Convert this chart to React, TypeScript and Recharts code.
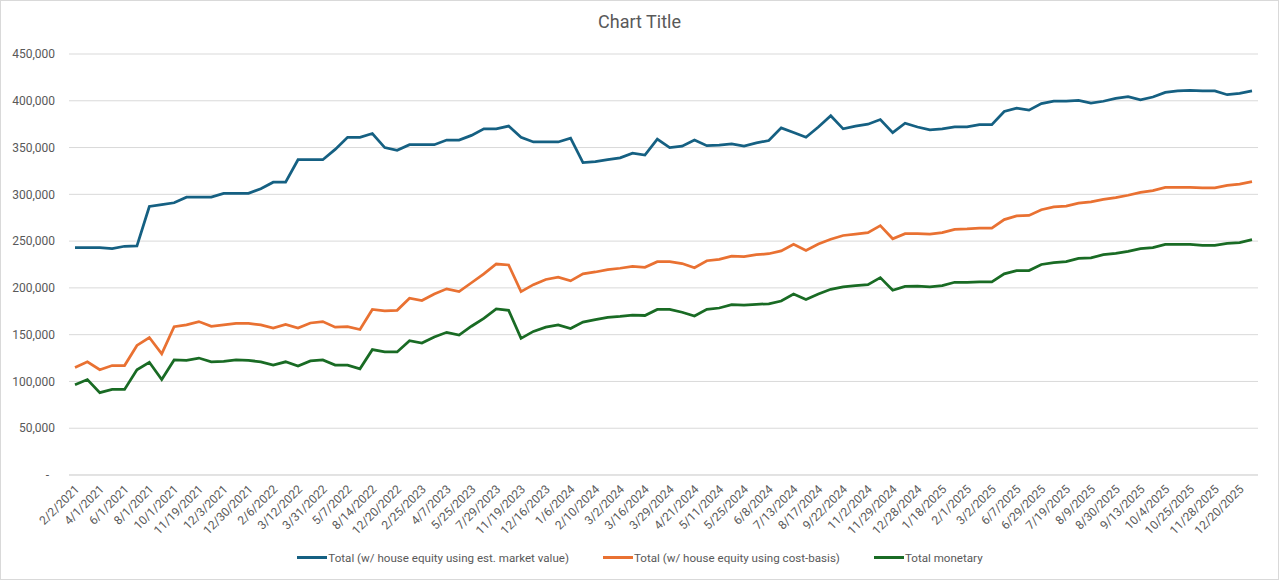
import { LineChart, Line, XAxis, YAxis, CartesianGrid, Legend } from "recharts"

// snapshot dates (every other one is labelled on the axis)
const dates = [
  "2/2/2021", "3/1/2021", "4/1/2021", "5/1/2021", "6/1/2021", "7/1/2021", "8/1/2021", "9/1/2021",
  "10/1/2021", "11/1/2021", "11/19/2021", "11/26/2021", "12/3/2021", "12/17/2021", "12/30/2021", "1/15/2022",
  "2/6/2022", "2/26/2022", "3/12/2022", "3/19/2022", "3/31/2022", "4/15/2022", "5/7/2022", "6/20/2022",
  "8/14/2022", "10/10/2022", "12/20/2022", "1/21/2023", "2/25/2023", "3/18/2023", "4/7/2023", "5/2/2023",
  "5/25/2023", "6/24/2023", "7/29/2023", "9/30/2023", "11/19/2023", "12/2/2023", "12/16/2023", "12/30/2023",
  "1/6/2024", "1/20/2024", "2/10/2024", "2/24/2024", "3/2/2024", "3/9/2024", "3/16/2024", "3/23/2024",
  "3/29/2024", "4/6/2024", "4/21/2024", "5/4/2024", "5/11/2024", "5/18/2024", "5/25/2024", "6/1/2024",
  "6/8/2024", "6/22/2024", "7/13/2024", "7/27/2024", "8/17/2024", "9/1/2024", "9/22/2024", "10/12/2024",
  "11/2/2024", "11/16/2024", "11/29/2024", "12/14/2024", "12/28/2024", "1/4/2025", "1/18/2025", "1/25/2025",
  "2/1/2025", "2/15/2025", "3/2/2025", "4/19/2025", "6/7/2025", "6/14/2025", "6/29/2025", "7/5/2025",
  "7/19/2025", "7/26/2025", "8/9/2025", "8/16/2025", "8/30/2025", "9/6/2025", "9/13/2025", "9/20/2025",
  "10/4/2025", "10/11/2025", "10/25/2025", "11/8/2025", "11/28/2025", "12/6/2025", "12/20/2025", "1/3/2026",
]

const marketValue = [
  243000, 243000, 243000, 242000, 244500, 245000, 287000, 289000, 291000, 297000,
  297000, 297000, 301000, 301000, 301000, 306000, 313000, 313000, 337000, 337000,
  337000, 348000, 361000, 361000, 365000, 350000, 347000, 353000, 353000, 353000,
  358000, 358000, 363000, 370000, 370000, 373000, 361000, 356000, 356000, 356000,
  360000, 334000, 335000, 337000, 339000, 344000, 342000, 359000, 350000, 351500,
  358000, 352000, 352500, 354000, 351500, 355000, 357500, 371000, 366000, 361000,
  372000, 384000, 370000, 373000, 375000, 380000, 366000, 376000, 372000, 369000,
  370000, 372000, 372000, 374500, 374500, 388500, 392000, 390000, 397000, 399500,
  399500, 400500, 397500, 399500, 402500, 404500, 401000, 404000, 409000, 410500,
  411000, 410500, 410500, 406500, 408000, 410500,
]

const costBasis = [
  115000, 121000, 112500, 117000, 117000, 138500, 147000, 129500, 158500, 160500,
  164000, 159000, 160500, 162000, 162000, 160500, 157000, 161000, 157000, 162500,
  164000, 158000, 158500, 155500, 177000, 175500, 176000, 189000, 186500, 193500,
  199000, 196000, 205500, 215000, 225500, 224500, 196000, 203500, 209000, 211500,
  207500, 215000, 217000, 219500, 221000, 223000, 222000, 228000, 228000, 226000,
  221500, 229000, 230500, 234000, 233500, 235500, 236500, 239500, 246500, 240000,
  247000, 252000, 256000, 257500, 259000, 266500, 252500, 258000, 258000, 257500,
  259000, 262500, 263000, 264000, 264000, 273000, 277000, 277500, 283500, 286500,
  287500, 290500, 292000, 294500, 296500, 299000, 302000, 304000, 307500, 307500,
  307500, 307000, 307000, 309500, 311000, 313500,
]

const monetary = [
  96500, 102000, 88000, 91500, 91500, 112500, 120500, 102000, 123000, 122500,
  125000, 121000, 121500, 123000, 122500, 121000, 117500, 121000, 116500, 122000,
  123000, 117500, 117500, 113500, 134000, 131500, 131500, 143500, 141000, 147500,
  152500, 149500, 159000, 167500, 177500, 176000, 146000, 153500, 158000, 160500,
  156500, 163500, 166000, 168500, 169500, 171000, 170500, 177000, 177000, 174000,
  170000, 177000, 178500, 182000, 181500, 182500, 183000, 186000, 193500, 187500,
  193500, 198500, 201000, 202500, 203500, 211000, 197500, 201500, 202000, 201000,
  202500, 206000, 206000, 206500, 206500, 215000, 218500, 218500, 225000, 227000,
  228000, 231500, 232000, 235500, 237000, 239000, 242000, 243000, 246500, 246500,
  246500, 245500, 245500, 247500, 248500, 251500,
]

const yTicks = [0, 50000, 100000, 150000, 200000, 250000, 300000, 350000, 400000, 450000]

const seriesOrder = ["market", "cost", "monetary"]

const data = dates.map((date, i) => ({
  date,
  market: marketValue[i],
  cost: costBasis[i],
  monetary: monetary[i],
}))

const FONT = "Roboto, 'Liberation Sans', Arial, sans-serif"
const TEXT = "#595959"

function DateTick({ x, y, payload }: any) {
  return (
    <g transform={`translate(${x + 2},${y + 4})`}>
      <text x={0} y={0} dy="0.35em" textAnchor="end" transform="rotate(-45)" fill={TEXT} fontSize={12} fontFamily={FONT}>
        {payload.value}
      </text>
    </g>
  )
}

function LegendRow({ payload }: any) {
  // keep the legend in series order, not sorted by name
  const items = [...(payload || [])].sort(
    (a: any, b: any) => seriesOrder.indexOf(a.dataKey) - seriesOrder.indexOf(b.dataKey)
  )
  return (
    <div style={{ display: "flex", justifyContent: "center", alignItems: "center", height: 25, paddingLeft: 22, fontFamily: FONT, fontSize: 11.6, color: TEXT }}>
      {items.map((p: any, i: number) => (
        <div key={i} style={{ display: "flex", alignItems: "center", marginLeft: i === 0 ? 0 : 34 }}>
          <span style={{ display: "inline-block", width: 30, height: 3, background: p.color, marginRight: 1 }} />
          <span>{p.value}</span>
        </div>
      ))}
    </div>
  )
}

export default function App() {
  return (
    <div style={{ position: "absolute", left: 0, top: 0, width: 1279, height: 580, background: "#fff" }}>
      <div style={{ position: "absolute", top: 11, left: 0, width: "100%", textAlign: "center", fontFamily: FONT, fontSize: 18, color: TEXT }}>
        Chart Title
      </div>
      <LineChart width={1279} height={580} data={data} margin={{ top: 54, right: 21, left: 0, bottom: 10 }}>
        <CartesianGrid vertical={false} stroke="#d9d9d9" strokeWidth={1} />
        <XAxis
          dataKey="date"
          interval={1}
          tick={<DateTick />}
          tickLine={false}
          axisLine={{ stroke: "#d9d9d9" }}
          padding={{ left: 6, right: 6 }}
          height={70}
        />
        <YAxis
          domain={[0, 450000]}
          ticks={yTicks}
          width={69}
          axisLine={false}
          tickLine={false}
          tickMargin={8}
          tick={{ fill: TEXT, fontSize: 12, fontFamily: FONT }}
          tickFormatter={(v: number) => (v === 0 ? "-\u00a0\u00a0" : v.toLocaleString("en-US"))}
        />
        <Legend verticalAlign="bottom" content={<LegendRow />} />
        <Line type="linear" dataKey="market" name="Total (w/ house equity using est. market value)" stroke="#156082" strokeWidth={2.75} dot={false} isAnimationActive={false} />
        <Line type="linear" dataKey="cost" name="Total (w/ house equity using cost-basis)" stroke="#E97132" strokeWidth={2.75} dot={false} isAnimationActive={false} />
        <Line type="linear" dataKey="monetary" name="Total monetary" stroke="#196B24" strokeWidth={2.75} dot={false} isAnimationActive={false} />
      </LineChart>
      <div style={{ position: "absolute", left: 0, top: 0, width: 1279, height: 580, boxSizing: "border-box", border: "1px solid #d9d9d9", pointerEvents: "none" }} />
    </div>
  )
}
